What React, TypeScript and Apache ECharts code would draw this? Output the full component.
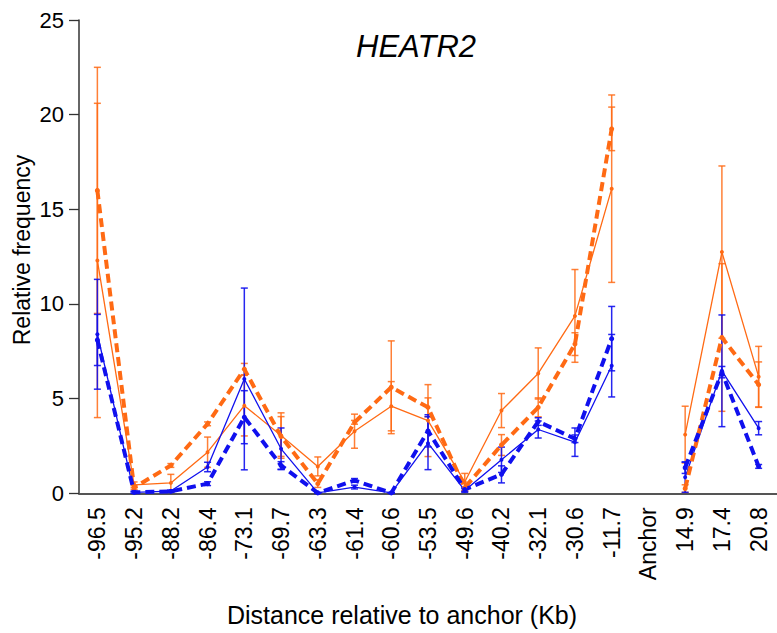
import React, { useEffect, useRef } from "react";
import * as echarts from "echarts";

const categories = ["-96.5", "-95.2", "-88.2", "-86.4", "-73.1", "-69.7", "-63.3", "-61.4", "-60.6", "-53.5", "-49.6", "-40.2", "-32.1", "-30.6", "-11.7", "Anchor", "14.9", "17.4", "20.8"];

const orangeSolid = [12.3, 0.45, 0.55, 2.17, 4.63, 3.05, 1.42, 3.28, 4.6, 3.84, 0.6, 4.37, 6.33, 9.37, 16.09, null, 3.1, 12.74, 6.16];
const orangeSolidErr = [8.3, 0.15, 0.45, 0.8, 1.6, 1.2, 0.5, 0.9, 1.3, 1.9, 0.45, 0.9, 1.35, 2.45, 4.95, null, 1.5, 4.55, 1.6];
const orangeDashed = [16.0, 0.3, 1.47, 3.67, 6.56, 3.0, 0.51, 3.75, 5.6, 4.54, 0.3, 2.55, 4.54, 7.88, 19.25, null, 0.25, 8.23, 5.74];
const orangeDashedErr = [6.5, 0.1, 0.1, 0.1, 0.3, 1.05, 0.2, 0.1, 2.45, 0.5, 0.2, 0.55, 0.5, 0.6, 1.15, null, 0.2, 3.9, 1.2];
const blueSolid = [8.4, 0.05, 0.12, 1.39, 6.04, 2.35, 0.02, 0.33, 0.02, 2.65, 0.15, 1.77, 3.37, 2.7, 6.74, null, 0.85, 6.47, 3.44];
const blueSolidErr = [2.9, 0.05, 0.05, 0.25, 4.8, 1.1, 0.02, 0.1, 0.02, 1.4, 0.1, 0.67, 0.45, 0.75, 1.65, null, 0.8, 2.95, 0.35];
const blueDashed = [8.1, 0.05, 0.1, 0.51, 4.02, 1.47, 0.02, 0.68, 0.02, 3.3, 0.2, 1.0, 3.79, 2.88, 8.17, null, 1.35, 6.4, 1.42];
const blueDashedErr = [1.35, 0.05, 0.05, 0.1, 1.4, 0.2, 0.02, 0.1, 0.02, 0.85, 0.1, 0.45, 0.2, 0.2, 1.7, null, 0.3, 0.3, 0.1];

const yTicks = [0, 5, 10, 15, 20, 25];

const ORANGE = "#FF6A14";
const BLUE = "#1010EE";
const FONT = "Liberation Sans, Arial, sans-serif";

function errData(vals: (number | null)[], errs: (number | null)[]) {
  const out: number[][] = [];
  vals.forEach((v, i) => {
    const e = errs[i];
    if (v == null || e == null) return;
    out.push([i, Math.max(0, v - e), v + e]);
  });
  return out;
}

function errSeries(vals: (number | null)[], errs: (number | null)[], color: string, opacity: number) {
  return {
    type: "custom",
    data: errData(vals, errs),
    encode: { x: 0, y: [1, 2] },
    z: 3,
    renderItem: (params: any, api: any) => {
      const lo = api.coord([api.value(0), api.value(1)]);
      const hi = api.coord([api.value(0), api.value(2)]);
      const cw = 3.5;
      const style = { stroke: color, lineWidth: 1.5, opacity };
      return {
        type: "group",
        children: [
          { type: "line", shape: { x1: lo[0], y1: lo[1], x2: hi[0], y2: hi[1] }, style },
          { type: "line", shape: { x1: hi[0] - cw, y1: hi[1], x2: hi[0] + cw, y2: hi[1] }, style },
          { type: "line", shape: { x1: lo[0] - cw, y1: lo[1], x2: lo[0] + cw, y2: lo[1] }, style },
        ],
      };
    },
  };
}

function lineSeries(vals: (number | null)[], color: string, dashed: boolean) {
  return {
    type: "line",
    data: vals,
    connectNulls: false,
    symbol: "circle",
    symbolSize: dashed ? 5 : 4,
    z: dashed ? 5 : 4,
    itemStyle: { color },
    lineStyle: dashed
      ? { color, width: 4, type: [9, 5] }
      : { color, width: 1.3 },
  };
}

export default function App() {
  const ref = useRef<HTMLDivElement>(null);
  useEffect(() => {
    document.body.style.margin = "0";
    const chart = echarts.init(ref.current!, null, { renderer: "svg" });
    chart.setOption({
      animation: false,
      backgroundColor: "#ffffff",
      textStyle: { fontFamily: FONT },
      title: {
        text: "HEATR2",
        left: 351,
        top: 26,
        textStyle: { fontFamily: FONT, fontStyle: "italic", fontWeight: "normal", fontSize: 31, color: "#000" },
      },
      graphic: [
        {
          type: "text",
          x: 402,
          y: 615,
          style: { text: "Distance relative to anchor (Kb)", fontSize: 25, fontFamily: FONT, fill: "#000", align: "center", verticalAlign: "middle" },
        },
        {
          type: "text",
          x: 22,
          y: 250,
          rotation: Math.PI / 2,
          style: { text: "Relative frequency", fontSize: 23, fontFamily: FONT, fill: "#000", align: "center", verticalAlign: "middle" },
        },
      ],
      grid: { left: 79, top: 20, width: 704, height: 473.3 },
      xAxis: {
        type: "category",
        data: categories,
        boundaryGap: true,
        axisLine: { lineStyle: { color: "#555", width: 2 } },
        axisTick: { alignWithLabel: true, length: 10, lineStyle: { color: "#333", width: 1.3 } },
        axisLabel: { rotate: 90, fontSize: 23, color: "#000", margin: 14, interval: 0, fontFamily: FONT },
      },
      yAxis: {
        type: "value",
        min: 0,
        max: 25,
        interval: 5,
        splitLine: { show: false },
        axisLine: { show: true, lineStyle: { color: "#333", width: 1.5 } },
        axisTick: { show: true, length: 10, lineStyle: { color: "#333", width: 1.3 } },
        axisLabel: {
          fontSize: 22,
          color: "#000",
          margin: 15,
          fontFamily: FONT,
          formatter: (v: number) => (yTicks.includes(v) ? String(v) : ""),
        },
      },
      series: [
        errSeries(orangeSolid, orangeSolidErr, ORANGE, 0.85),
        errSeries(orangeDashed, orangeDashedErr, ORANGE, 0.85),
        errSeries(blueSolid, blueSolidErr, BLUE, 0.9),
        errSeries(blueDashed, blueDashedErr, BLUE, 0.9),
        lineSeries(orangeSolid, ORANGE, false),
        lineSeries(orangeDashed, ORANGE, true),
        lineSeries(blueSolid, BLUE, false),
        lineSeries(blueDashed, BLUE, true),
      ],
    });
    return () => chart.dispose();
  }, []);
  return <div ref={ref} style={{ width: 777, height: 633 }} />;
}
